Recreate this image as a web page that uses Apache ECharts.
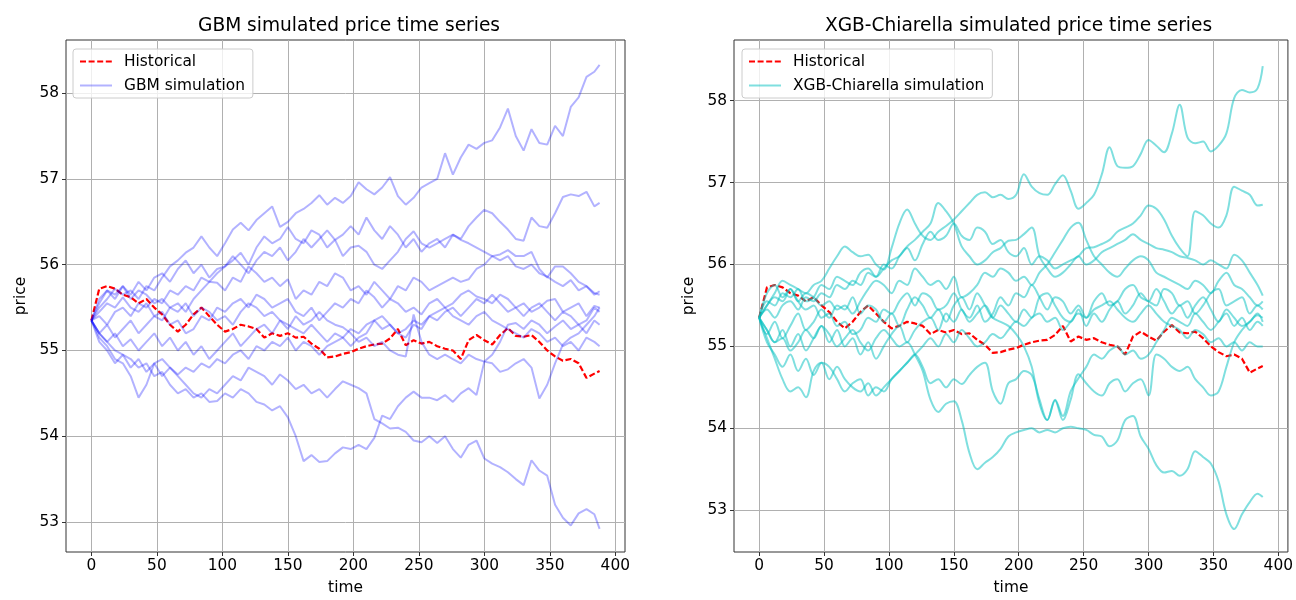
<!DOCTYPE html>
<html><head><meta charset="utf-8">
<script src="https://cdn.jsdelivr.net/npm/echarts@6/dist/echarts.min.js"></script>
<style>html,body{margin:0;padding:0;background:#fff}#c{width:1296px;height:600px}</style>
</head><body><div id="c"></div>
<script>
// time steps sampled
const time = [0,6,12,18,24,30,36,42,48,54,60, 66,72,78,84,90,96,102,108,114,120,126, 132,138,144,150,156,162,168,174,180,186,192, 198,204,210,216,222,228,234,240,246,252,258, 264,270,276,282,288,294,300,306,312,318,324, 330,336,342,348,354,360,366,372,378,384,388];
const xTickValues = [0,50,100,150,200,250,300,350,400];
const yTickValues = [53,54,55,56,57,58];
const historical = [55.35,55.72,55.75,55.72,55.65,55.62,55.55,55.6,55.5,55.42,55.3,
55.22,55.3,55.42,55.5,55.4,55.3,55.22,55.25,55.3,55.28,55.25,
55.15,55.2,55.17,55.2,55.15,55.16,55.08,55.02,54.92,54.93,54.96,
54.98,55.02,55.05,55.07,55.08,55.14,55.25,55.06,55.12,55.08,55.1,
55.05,55.02,55.0,54.9,55.12,55.18,55.12,55.07,55.18,55.26,55.17,
55.16,55.18,55.1,55.0,54.93,54.88,54.9,54.85,54.68,54.73,54.76];
// GBM simulations
const gbm1 = [55.35,55.5,55.6,55.72,55.65,55.7,55.6,55.75,55.7,55.85,55.98,
56.05,56.14,56.2,56.33,56.2,56.1,56.25,56.41,56.49,56.4,56.52,
56.6,56.68,56.44,56.5,56.6,56.65,56.72,56.81,56.7,56.78,56.72,
56.8,56.96,56.88,56.82,56.9,57.02,56.8,56.7,56.78,56.9,56.95,
57.0,57.3,57.05,57.25,57.4,57.35,57.42,57.45,57.6,57.82,57.5,
57.33,57.58,57.42,57.4,57.62,57.5,57.84,57.95,58.19,58.25,58.33];
const gbm2 = [55.35,55.4,55.3,55.45,55.5,55.4,55.55,55.5,55.6,55.55,55.7,
55.65,55.75,55.7,55.85,55.8,55.9,55.98,56.05,56.14,56.0,56.2,
56.33,56.25,56.3,56.44,56.3,56.25,56.4,56.35,56.2,56.29,56.1,
56.2,56.22,56.15,56.0,55.95,56.05,56.15,56.3,56.39,56.25,56.2,
56.25,56.3,56.35,56.3,56.45,56.55,56.64,56.6,56.5,56.41,56.3,
56.28,56.55,56.45,56.43,56.6,56.79,56.82,56.8,56.85,56.68,56.72];
const gbm3 = [55.35,55.55,55.7,55.6,55.75,55.65,55.8,55.7,55.85,55.9,55.8,
55.95,56.05,55.9,56.0,55.85,55.95,55.98,56.1,56.0,55.9,56.05,
56.15,56.1,56.2,56.05,56.15,56.3,56.2,56.3,56.4,56.29,56.35,
56.45,56.35,56.55,56.4,56.3,56.45,56.35,56.2,56.3,56.15,56.25,
56.3,56.2,56.35,56.29,56.25,56.2,56.15,56.1,56.05,56.1,55.98,
55.95,56.0,55.9,55.86,55.8,55.75,55.82,55.7,55.75,55.65,55.69];
const gbm4 = [55.35,55.6,55.7,55.65,55.75,55.6,55.7,55.65,55.55,55.6,55.5,
55.55,55.45,55.6,55.7,55.8,55.79,55.7,55.85,55.8,55.98,55.9,
55.8,55.85,55.75,55.83,55.6,55.7,55.65,55.8,55.75,55.9,55.85,
55.7,55.75,55.65,55.8,55.7,55.6,55.75,55.7,55.85,55.8,55.7,
55.75,55.8,55.85,55.8,55.83,55.95,56.0,56.1,56.12,56.17,56.1,
56.1,56.15,55.95,55.85,55.98,55.98,55.9,55.8,55.75,55.67,55.65];
const gbm5 = [55.35,55.45,55.55,55.5,55.62,55.5,55.45,55.55,55.4,55.45,55.3,
55.35,55.2,55.25,55.4,55.35,55.5,55.45,55.55,55.6,55.5,55.65,
55.6,55.5,55.55,55.6,55.45,55.4,55.5,55.35,55.45,55.55,55.5,
55.6,55.55,55.7,55.62,55.5,55.6,55.55,55.45,55.5,55.42,55.55,
55.6,55.5,55.55,55.65,55.7,55.63,55.6,55.55,55.65,55.6,55.5,
55.55,55.45,55.5,55.58,55.6,55.45,55.5,55.55,55.4,55.52,55.5];
const gbm6 = [55.35,55.2,55.3,55.15,55.25,55.35,55.2,55.3,55.4,55.35,55.5,
55.45,55.55,55.4,55.5,55.45,55.35,55.4,55.3,55.45,55.55,55.5,
55.4,55.45,55.35,55.3,55.25,55.2,55.3,55.2,55.1,55.2,55.15,
55.05,55.15,55.2,55.35,55.4,55.3,55.2,55.15,55.3,55.25,55.4,
55.35,55.45,55.5,55.4,55.5,55.6,55.55,55.65,55.55,55.45,55.5,
55.4,55.5,55.55,55.45,55.35,55.45,55.4,55.3,55.35,55.5,55.45];
const gbm7 = [55.35,55.2,55.1,55.2,55.05,55.13,55.0,55.1,55.2,55.05,55.15,
55.0,55.1,54.95,55.05,54.9,55.0,55.1,55.2,55.05,55.15,55.25,
55.3,55.2,55.35,55.25,55.4,55.3,55.35,55.45,55.35,55.3,55.27,
55.2,55.1,55.15,55.05,55.1,55.0,54.95,54.93,55.42,55.1,54.95,
54.9,54.95,54.9,54.85,54.95,54.9,54.87,54.95,55.1,55.3,55.32,
55.25,55.35,55.3,55.2,55.28,55.35,55.25,55.3,55.2,55.35,55.3];
const gbm8 = [55.35,55.1,55.0,54.85,54.95,54.8,54.9,54.75,54.85,54.7,54.8,
54.72,54.8,54.75,54.85,54.8,54.9,54.85,54.95,55.0,54.9,55.05,
55.0,55.1,55.05,55.15,55.0,55.1,55.05,54.95,55.05,55.1,55.15,
55.25,55.2,55.3,55.35,55.25,55.3,55.2,55.25,55.35,55.3,55.4,
55.45,55.5,55.4,55.35,55.3,55.4,55.45,55.35,55.3,55.25,55.2,
55.15,55.25,55.2,55.1,55.15,55.05,55.1,55.0,55.15,55.1,55.05];
const gbm9 = [55.35,55.2,55.1,55.0,54.95,54.9,54.8,54.85,54.7,54.75,54.6,
54.5,54.55,54.45,54.5,54.4,54.41,54.5,54.45,54.55,54.5,54.4,
54.37,54.3,54.35,54.22,54.0,53.71,53.78,53.7,53.71,53.8,53.87,
53.85,53.9,53.85,53.98,54.24,54.2,54.35,54.45,54.52,54.45,54.45,
54.42,54.48,54.4,54.5,54.56,54.48,54.87,54.85,54.75,54.78,54.85,
54.9,54.8,54.44,54.6,54.85,55.07,55.15,55.2,55.3,55.4,55.5];
const gbm10 = [55.35,55.15,55.05,54.9,54.85,54.7,54.45,54.6,54.85,54.9,54.8,
54.7,54.6,54.5,54.45,54.55,54.5,54.6,54.7,54.65,54.8,54.75,
54.7,54.6,54.72,54.65,54.55,54.6,54.5,54.55,54.45,54.55,54.64,
54.6,54.56,54.5,54.2,54.15,54.09,54.1,54.05,53.95,53.93,54.0,
53.92,54.0,53.85,53.75,53.9,53.95,53.74,53.68,53.64,53.58,53.5,
53.43,53.72,53.6,53.54,53.2,53.05,52.96,53.1,53.15,53.09,52.92];
// XGB-Chiarella simulations
const xgb1 = [55.35,55.5,55.65,55.8,55.75,55.7,55.65,55.75,55.8,55.95,56.1,
56.22,56.15,56.1,56.12,56.0,55.94,56.2,56.5,56.67,56.5,56.35,
56.3,56.4,56.47,56.55,56.65,56.75,56.85,56.88,56.82,56.85,56.8,
56.85,57.1,56.95,56.87,56.85,56.98,57.09,56.9,56.68,56.75,56.85,
57.1,57.43,57.2,57.18,57.2,57.35,57.52,57.45,57.37,57.6,57.95,
57.55,57.48,57.5,57.38,57.45,57.6,58.03,58.13,58.1,58.15,58.42];
const xgb2 = [55.35,55.45,55.35,55.5,55.55,55.45,55.6,55.55,55.65,55.6,55.75,
55.7,55.8,55.75,55.9,55.85,55.95,56.05,56.1,56.2,56.05,56.25,
56.4,56.3,56.35,56.5,56.35,56.3,56.45,56.4,56.25,56.3,56.15,
56.1,56.2,56.0,56.1,56.05,55.95,56.0,56.05,56.1,56.2,56.21,
56.25,56.3,56.4,56.45,56.5,56.6,56.72,56.68,56.55,56.35,56.2,
56.1,56.65,56.6,56.5,56.45,56.6,56.95,56.9,56.85,56.72,56.73];
const xgb3 = [55.35,55.55,55.5,55.65,55.6,55.7,55.55,55.6,55.75,55.7,55.85,
55.8,55.75,55.9,55.95,55.85,56.0,55.95,56.1,56.22,56.3,56.4,
56.5,56.75,56.65,56.5,56.22,56.1,56.0,56.05,56.15,56.2,56.29,
56.3,56.37,56.45,56.1,55.95,55.85,55.9,56.0,56.1,56.0,56.05,
56.15,56.2,56.25,56.3,56.37,56.3,56.25,56.2,56.18,56.15,56.1,
56.08,56.05,56.0,56.05,56.0,55.95,56.12,56.05,55.9,55.75,55.62];
const xgb4 = [55.35,55.65,55.75,55.6,55.7,55.55,55.65,55.6,55.5,55.55,55.45,
55.5,55.4,55.55,55.7,55.8,55.75,55.65,55.8,55.75,55.95,55.85,
55.75,55.8,55.7,55.85,55.6,55.65,55.75,55.9,55.85,55.95,55.9,
55.8,55.85,55.75,55.9,56.0,56.15,56.3,56.45,56.51,56.3,56.1,
56.0,55.9,55.85,55.95,56.05,56.1,56.05,55.9,55.85,55.8,55.75,
55.7,55.8,55.75,55.65,55.8,55.9,55.75,55.7,55.6,55.5,55.55];
const xgb5 = [55.35,55.5,55.6,55.55,55.7,55.55,55.45,55.5,55.35,55.4,55.25,
55.3,55.15,55.2,55.35,55.3,55.45,55.4,55.55,55.65,55.5,55.65,
55.6,55.45,55.5,55.65,55.45,55.35,55.5,55.3,55.4,55.6,55.5,
55.65,55.6,55.75,55.6,55.45,55.6,55.55,55.4,55.5,55.35,55.55,
55.65,55.5,55.55,55.7,55.75,55.6,55.55,55.5,55.7,55.65,55.5,
55.55,55.4,55.5,55.65,55.7,55.5,55.55,55.6,55.4,55.5,55.45];
const xgb6 = [55.35,55.15,55.3,55.1,55.25,55.4,55.2,55.3,55.45,55.35,55.5,
55.45,55.6,55.4,55.5,55.45,55.3,55.4,55.25,55.45,55.6,55.5,
55.35,55.45,55.3,55.5,55.6,55.45,55.65,55.5,55.35,55.5,55.4,
55.3,55.45,55.35,55.6,55.65,55.5,55.35,55.3,55.45,55.25,55.4,
55.3,55.45,55.55,55.4,55.5,55.65,55.55,55.7,55.55,55.4,55.5,
55.35,55.5,55.6,55.45,55.3,55.45,55.35,55.25,55.3,55.4,55.3];
const xgb7 = [55.35,55.2,55.05,55.2,55.0,55.15,54.95,55.1,55.25,55.05,55.2,
55.0,55.1,54.9,55.05,54.85,55.0,55.15,55.25,55.05,55.2,55.3,
55.35,55.2,55.4,55.3,55.45,55.3,55.4,55.5,55.35,55.3,55.25,
55.15,55.0,54.75,54.3,54.1,54.35,54.15,54.45,54.61,54.75,54.9,
54.85,54.95,55.0,54.9,54.95,54.85,54.9,55.05,55.2,55.35,55.3,
55.25,55.4,55.3,55.2,55.3,55.4,55.25,55.35,55.2,55.3,55.25];
const xgb8 = [55.35,55.05,54.9,54.75,54.9,54.7,54.85,54.65,54.8,54.6,54.75,
54.6,54.5,54.45,54.55,54.4,54.5,54.6,54.7,54.8,54.9,55.0,
55.1,55.0,55.15,55.05,55.2,55.1,55.0,55.05,55.15,55.1,55.2,
55.3,55.25,55.35,55.4,55.3,55.35,55.2,55.3,55.4,55.35,55.45,
55.5,55.55,55.45,55.35,55.3,55.4,55.5,55.4,55.3,55.25,55.2,
55.1,55.2,55.15,55.05,55.1,55.0,55.05,54.95,55.05,55.0,55.0];
const xgb9 = [55.35,55.2,55.05,55.1,54.95,55.05,55.2,55.1,55.25,55.15,55.0,
55.1,55.2,55.05,54.95,55.1,55.2,55.1,55.0,55.05,54.9,54.7,
54.35,54.2,54.3,54.33,54.1,53.7,53.5,53.58,53.65,53.75,53.9,
53.95,53.98,54.0,53.95,53.98,53.95,54.0,54.02,54.0,53.98,53.92,
53.9,53.78,53.85,54.1,54.15,53.9,53.75,53.55,53.46,53.48,53.42,
53.5,53.72,53.65,53.57,53.35,52.95,52.77,52.95,53.1,53.2,53.16];
const xgb10 = [55.35,55.1,54.85,54.6,54.45,54.5,54.38,54.7,54.8,54.75,54.6,
54.45,54.55,54.6,54.4,54.5,54.45,54.6,54.7,54.8,54.9,54.75,
54.55,54.6,54.5,54.6,54.54,54.65,54.75,54.8,54.45,54.3,54.55,
54.6,54.7,54.65,54.35,54.1,54.34,54.1,54.35,54.66,54.55,54.45,
54.4,54.55,54.6,54.45,54.55,54.6,54.4,54.9,54.85,54.75,54.7,
54.75,54.6,54.5,54.4,54.45,54.75,55.05,55.2,55.3,55.38,55.35];

const FONT = 'DejaVu Sans';
const FS = 15.4;
const gbmPaths = [gbm1,gbm2,gbm3,gbm4,gbm5,gbm6,gbm7,gbm8,gbm9,gbm10];
const xgbPaths = [xgb1,xgb2,xgb3,xgb4,xgb5,xgb6,xgb7,xgb8,xgb9,xgb10];
function pts(arr){ return time.map((t,i)=>[t,arr[i]]); }

const series = [];
function histSeries(idx){
  return {type:'line', name:'Historical', xAxisIndex:idx, yAxisIndex:idx, data:pts(historical),
    symbol:'none', showSymbol:false, silent:true, z:2,
    lineStyle:{color:'#ff0000', width:2.2, type:[6,2.6]}, itemStyle:{color:'#ff0000'}};
}
series.push(histSeries(0));
gbmPaths.forEach(p=>series.push({type:'line', name:'GBM simulation', xAxisIndex:0, yAxisIndex:0, data:pts(p),
  symbol:'none', showSymbol:false, silent:true, z:3,
  lineStyle:{color:'#0000ff', width:2, opacity:0.3}, itemStyle:{color:'#0000ff'}}));
series.push(histSeries(1));
xgbPaths.forEach(p=>series.push({type:'line', name:'XGB-Chiarella simulation', xAxisIndex:1, yAxisIndex:1, data:pts(p),
  symbol:'none', showSymbol:false, silent:true, smooth:0.35, z:3,
  lineStyle:{color:'#00bfbf', width:2, opacity:0.5}, itemStyle:{color:'#00bfbf'}}));

function xAxis(idx){
  return {gridIndex:idx, type:'value', min:-19.4, max:407.4, splitNumber:8,
    axisLine:{show:false, onZero:false},
    axisTick:{show:true, inside:false, length:4, customValues:xTickValues, lineStyle:{color:'#333', width:1}},
    axisLabel:{customValues:xTickValues, color:'#000', fontSize:FS, fontFamily:FONT, margin:6},
    splitLine:{show:true, lineStyle:{color:'#b0b0b0', width:1}},
    name:'time', nameLocation:'middle', nameGap:28,
    nameTextStyle:{color:'#000', fontSize:FS, fontFamily:FONT}};
}
function yAxis(idx, mn, mx){
  return {gridIndex:idx, type:'value', min:mn, max:mx, splitNumber:6,
    axisLine:{show:false, onZero:false},
    axisTick:{show:true, inside:false, length:4, customValues:yTickValues, lineStyle:{color:'#333', width:1}},
    axisLabel:{customValues:yTickValues, color:'#000', fontSize:FS, fontFamily:FONT, margin:7,
      formatter:v=>String(Math.round(v))},
    splitLine:{show:true, lineStyle:{color:'#b0b0b0', width:1}},
    name:'price', nameLocation:'middle', nameGap:38, nameRotate:90,
    nameTextStyle:{color:'#000', fontSize:FS, fontFamily:FONT}};
}
function legend(left, names){
  return {left:left, top:49, orient:'vertical', data:names, selectedMode:false,
    itemWidth:32, itemHeight:14, itemGap:9, padding:[5,8,5,6],
    itemStyle:{opacity:0},
    backgroundColor:'rgba(255,255,255,0.8)', borderColor:'#cccccc', borderWidth:1, borderRadius:3,
    textStyle:{fontFamily:FONT, fontSize:FS, color:'#000', padding:[0,0,0,7]}};
}

const chart = echarts.init(document.getElementById('c'), null, {renderer:'canvas'});
chart.setOption({
  animation:false,
  backgroundColor:'#ffffff',
  title:[
    {text:'GBM simulated price time series', left:344, top:12, textAlign:'center',
     textStyle:{fontFamily:FONT, fontSize:18.6, fontWeight:'normal', color:'#000'}},
    {text:'XGB-Chiarella simulated price time series', left:1013.5, top:12, textAlign:'center',
     textStyle:{fontFamily:FONT, fontSize:18.6, fontWeight:'normal', color:'#000'}}
  ],
  legend:[legend(73,['Historical','GBM simulation']), legend(742,['Historical','XGB-Chiarella simulation'])],
  grid:[
    {left:66, top:40, width:559, height:513, show:true, borderColor:'#333', borderWidth:1, backgroundColor:'transparent', containLabel:false},
    {left:734, top:40, width:559, height:513, show:true, borderColor:'#333', borderWidth:1, backgroundColor:'transparent', containLabel:false}
  ],
  xAxis:[xAxis(0), xAxis(1)],
  yAxis:[yAxis(0,52.65,58.62), yAxis(1,52.49,58.74)],
  series:series
});
</script>
</body></html>
